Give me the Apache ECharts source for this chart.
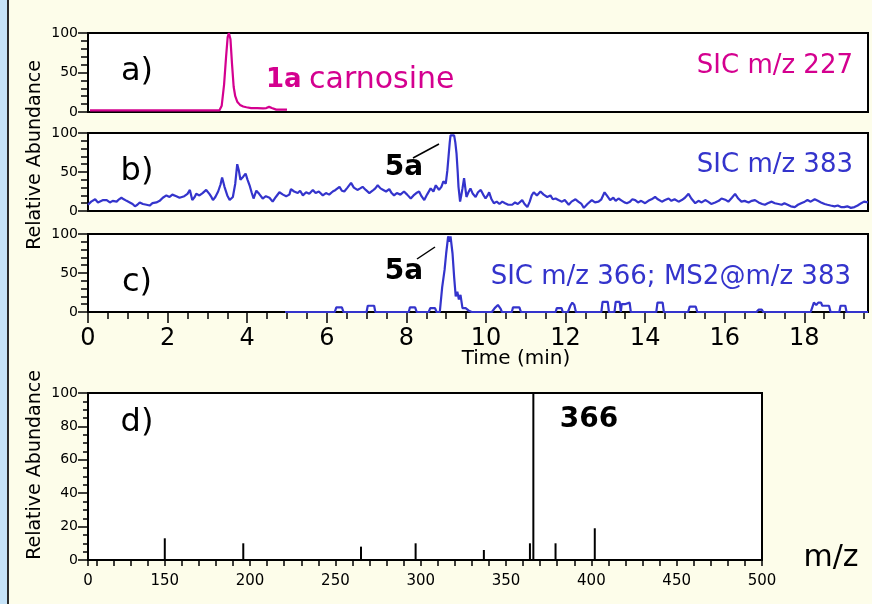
<!DOCTYPE html>
<html><head><meta charset="utf-8">
<script src="https://cdn.jsdelivr.net/npm/echarts@6/dist/echarts.min.js"></script>
<style>
html,body{margin:0;padding:0;}
body{width:872px;height:604px;overflow:hidden;background:linear-gradient(to right,#c6e3f8 0,#c6e3f8 7px,#2b2b2b 7px,#2b2b2b 9px,#fdfdea 9px);}
#c{width:872px;height:604px;}
</style></head><body><div id="c"></div>
<script>
// a) SIC m/z 227 : [time (min), relative abundance]
const sic227 = [[0.05,2],[0.5,2],[1,2],[1.5,2],[2,2],[2.5,2],[3.0,2],[3.3,2],[3.36,8],[3.42,35],[3.47,70],[3.51,95],[3.54,100],[3.58,92],[3.62,60],[3.66,32],[3.70,20],[3.75,13],[3.82,9],[3.9,7],[3.98,6],[4.1,5],[4.25,5],[4.4,4.5],[4.48,5],[4.55,6.5],[4.62,5],[4.73,3],[4.85,3],[5.0,3]];
// b) SIC m/z 383
const sic383 = [[0.00,8],[0.08,12],[0.18,15],[0.25,11],[0.30,10],[0.38,14],[0.47,14],[0.55,11],[0.62,13],[0.72,12],[0.78,15],[0.84,17],[0.90,15],[0.97,13],[1.05,11],[1.12,9],[1.18,6],[1.24,8],[1.30,11],[1.38,9],[1.47,8],[1.55,7],[1.62,10],[1.72,11],[1.80,13],[1.88,17],[1.97,20],[2.05,18],[2.12,21],[2.22,19],[2.30,17],[2.35,16],[2.42,19],[2.50,22],[2.56,27],[2.62,14],[2.68,18],[2.72,22],[2.80,20],[2.88,23],[2.97,27],[3.05,22],[3.10,18],[3.14,14],[3.20,18],[3.27,25],[3.33,34],[3.37,43],[3.43,31],[3.50,20],[3.56,14],[3.60,16],[3.64,18],[3.70,35],[3.75,60],[3.79,52],[3.83,40],[3.90,44],[3.96,48],[4.01,40],[4.06,33],[4.11,24],[4.16,16],[4.23,26],[4.30,22],[4.39,16],[4.47,19],[4.56,17],[4.64,12],[4.72,18],[4.81,24],[4.90,21],[4.98,19],[5.06,21],[5.10,28],[5.18,25],[5.27,23],[5.33,26],[5.40,20],[5.48,24],[5.56,22],[5.65,27],[5.72,23],[5.80,25],[5.90,20],[5.98,23],[6.06,21],[6.15,25],[6.22,27],[6.32,31],[6.38,26],[6.44,25],[6.52,30],[6.61,36],[6.68,30],[6.77,27],[6.84,29],[6.90,31],[6.98,27],[7.07,23],[7.15,26],[7.22,29],[7.28,33],[7.35,29],[7.42,27],[7.49,25],[7.57,28],[7.63,23],[7.69,20],[7.76,23],[7.85,21],[7.94,25],[8.02,21],[8.11,16],[8.18,20],[8.25,23],[8.32,25],[8.38,19],[8.45,14],[8.52,21],[8.61,29],[8.68,25],[8.74,33],[8.82,27],[8.88,31],[8.93,38],[8.99,35],[9.03,52],[9.06,70],[9.09,88],[9.11,97],[9.15,99],[9.20,97],[9.23,88],[9.26,74],[9.29,50],[9.31,31],[9.35,12],[9.38,20],[9.41,29],[9.45,42],[9.48,30],[9.51,18],[9.56,24],[9.61,29],[9.67,22],[9.74,18],[9.80,24],[9.87,27],[9.93,21],[9.99,16],[10.04,20],[10.08,24],[10.14,15],[10.20,10],[10.27,12],[10.34,9],[10.41,12],[10.48,10],[10.56,8],[10.66,8],[10.73,11],[10.80,9],[10.91,14],[10.97,9],[11.04,5],[11.10,12],[11.15,20],[11.20,24],[11.28,20],[11.37,25],[11.45,21],[11.54,18],[11.62,20],[11.68,15],[11.75,16],[11.82,14],[11.91,12],[11.98,14],[12.08,8],[12.15,12],[12.25,15],[12.32,12],[12.40,9],[12.46,4],[12.55,9],[12.66,14],[12.74,11],[12.83,12],[12.90,15],[12.98,24],[13.05,19],[13.12,14],[13.20,17],[13.26,13],[13.33,16],[13.42,13],[13.48,11],[13.54,10],[13.62,12],[13.68,15],[13.75,14],[13.82,11],[13.90,13],[14.00,10],[14.08,13],[14.16,15],[14.25,18],[14.32,15],[14.42,12],[14.50,14],[14.59,16],[14.66,13],[14.74,15],[14.84,12],[14.92,14],[15.00,17],[15.09,22],[15.16,16],[15.26,10],[15.34,13],[15.42,11],[15.51,14],[15.58,12],[15.66,9],[15.76,11],[15.85,13],[15.92,16],[15.97,16],[16.03,14],[16.09,12],[16.18,17],[16.26,22],[16.34,16],[16.42,12],[16.50,13],[16.60,11],[16.68,13],[16.76,14],[16.85,11],[16.94,9],[17.01,8],[17.08,10],[17.18,12],[17.26,10],[17.35,9],[17.43,8],[17.50,10],[17.58,8],[17.66,6],[17.76,5],[17.84,8],[17.92,10],[18.01,12],[18.08,14],[18.16,12],[18.26,15],[18.34,13],[18.42,11],[18.51,9],[18.58,8],[18.66,7],[18.76,6],[18.84,7],[18.92,5],[19.00,5],[19.08,6],[19.17,4],[19.26,5],[19.34,7],[19.43,10],[19.50,12],[19.60,11]];
// c) SIC m/z 366; MS2@m/z 383
const sic366 = [[4.95,0],[6.2,0],[6.24,6],[6.38,6],[6.42,0],[7.0,0],[7.03,8],[7.19,8],[7.22,0],[8.06,0],[8.09,6],[8.22,6],[8.26,0],[8.56,0],[8.6,5],[8.72,5],[8.76,0],[8.84,0],[8.9,32],[8.96,54],[9.0,75],[9.05,97],[9.09,90],[9.11,97],[9.16,75],[9.2,45],[9.24,20],[9.28,26],[9.32,16],[9.36,22],[9.41,5],[9.49,5],[9.56,2],[9.64,0],[10.15,0],[10.22,5],[10.3,9],[10.37,4],[10.4,0],[10.65,0],[10.68,6],[10.84,6],[10.88,0],[11.75,0],[11.78,5],[11.9,5],[11.93,0],[12.06,0],[12.12,8],[12.17,12],[12.22,9],[12.26,0],[12.9,0],[12.93,13],[13.06,13],[13.09,0],[13.23,0],[13.26,13],[13.36,13],[13.39,0],[13.41,10],[13.49,10],[13.51,12],[13.61,12],[13.64,0],[14.28,0],[14.31,12],[14.44,12],[14.47,0],[15.08,0],[15.12,7],[15.27,7],[15.31,0],[16.8,0],[16.85,3],[16.93,3],[16.97,0],[18.16,0],[18.2,6],[18.24,12],[18.3,9],[18.35,12],[18.42,12],[18.45,8],[18.62,8],[18.66,0],[18.88,0],[18.91,8],[19.03,8],[19.06,0],[19.6,0]];
// d) MS2 spectrum
const msMz = [150,196,265,297,337,364,366,379,402];
const msIntensity = [13,10,8,10,6,10,100,10,19];
// tick labels
const timeTickLabels = [0,2,4,6,8,10,12,14,16,18];
const timeMinorTicks = [0,0.5,1,1.5,2,2.5,3,3.5,4,4.5,5,5.5,6,6.5,7,7.5,8,8.5,9,9.5,10,10.5,11,11.5,12,12.5,13,13.5,14,14.5,15,15.5,16,16.5,17,17.5,18,18.5,19,19.5];
const mzTickLabels = [105,150,200,250,300,350,400,450,500];
const mzTicks = [105,110,120,130,140,150,160,170,180,190,200,210,220,230,240,250,260,270,280,290,300,310,320,330,340,350,360,370,380,390,400,410,420,430,440,450,460,470,480,490,500];

const MAG = '#d4008f', BLUE = '#3434cc';
const FONT = 'DejaVu Sans';
const chart = echarts.init(document.getElementById('c'), null, {renderer:'canvas'});

function gridCfg(top, h, w){ return {left:88, top:top, width:w, height:h, show:true, backgroundColor:'#fff', borderColor:'#000', borderWidth:2}; }
function yAx(gi, interval, minorSplit, minorLen){
  return {type:'value', gridIndex:gi, min:0, max:100, interval:interval,
    axisLine:{show:true, lineStyle:{color:'#000', width:2}},
    axisTick:{show:true, length:10, lineStyle:{color:'#000', width:1.5}},
    minorTick:{show:true, splitNumber:minorSplit, length:minorLen, lineStyle:{color:'#000', width:1.5}},
    splitLine:{show:false},
    axisLabel:{color:'#000', fontFamily:FONT, fontSize:14, margin:10, padding:[9,0,0,0]}};
}
const hiddenX = gi => ({type:'value', gridIndex:gi, min:0, max:19.6, show:false});

chart.setOption({
  animation:false,
  grid:[gridCfg(33,79,780), gridCfg(133,78,780), gridCfg(234,78,780), gridCfg(393,167,674)],
  xAxis:[
    hiddenX(0), hiddenX(1),
    {type:'value', gridIndex:2, position:'bottom', min:0, max:19.6,
      axisLine:{show:true, lineStyle:{color:'#000', width:2}},
      axisTick:{show:true, length:7, customValues:timeMinorTicks, lineStyle:{color:'#000', width:1.5}},
      splitLine:{show:false},
      axisLabel:{customValues:timeTickLabels, color:'#000', fontFamily:FONT, fontSize:24, margin:15}},
    {type:'value', gridIndex:2, position:'bottom', min:0, max:19.6,
      axisLine:{show:false}, axisLabel:{show:false}, splitLine:{show:false},
      axisTick:{show:true, length:11, customValues:timeTickLabels, lineStyle:{color:'#000', width:1.5}}},
    {type:'value', gridIndex:3, position:'bottom', min:105, max:500,
      axisLine:{show:true, lineStyle:{color:'#000', width:2}},
      axisTick:{show:true, length:6, customValues:mzTicks, lineStyle:{color:'#000', width:1.5}},
      splitLine:{show:false},
      axisLabel:{customValues:mzTickLabels, color:'#000', fontFamily:FONT, fontSize:15, margin:14,
        formatter: v => (v === 105 ? '0' : String(v))}}
  ],
  yAxis:[yAx(0,50,5,7), yAx(1,50,5,7), yAx(2,50,5,7), yAx(3,20,4,5)],
  series:[
    {type:'line', xAxisIndex:0, yAxisIndex:0, data:sic227, showSymbol:false, lineStyle:{color:MAG, width:2.2}, itemStyle:{color:MAG}},
    {type:'line', xAxisIndex:1, yAxisIndex:1, data:sic383, showSymbol:false, lineStyle:{color:BLUE, width:2.2}, itemStyle:{color:BLUE}},
    {type:'line', xAxisIndex:2, yAxisIndex:2, data:sic366, showSymbol:false, lineStyle:{color:BLUE, width:2.2}, itemStyle:{color:BLUE}},
    {type:'bar', xAxisIndex:4, yAxisIndex:3, data:msMz.map((m,i)=>[m, msIntensity[i]]), barWidth:2, itemStyle:{color:'#000'}}
  ],
  graphic:[
    {type:'text', x:35, y:155, rotation:Math.PI/2, style:{text:'Relative Abundance', font:'19px '+FONT, fill:'#000', align:'center', verticalAlign:'middle'}},
    {type:'text', x:35, y:465, rotation:Math.PI/2, style:{text:'Relative Abundance', font:'19px '+FONT, fill:'#000', align:'center', verticalAlign:'middle'}},
    {type:'text', x:137, y:72, style:{text:'a)', font:'32px '+FONT, fill:'#000', align:'center', verticalAlign:'middle'}},
    {type:'text', x:137, y:172, style:{text:'b)', font:'32px '+FONT, fill:'#000', align:'center', verticalAlign:'middle'}},
    {type:'text', x:137, y:283, style:{text:'c)', font:'32px '+FONT, fill:'#000', align:'center', verticalAlign:'middle'}},
    {type:'text', x:137, y:423, style:{text:'d)', font:'32px '+FONT, fill:'#000', align:'center', verticalAlign:'middle'}},
    {type:'text', x:266, y:80, style:{text:'1a', font:'bold 26px '+FONT, fill:MAG, align:'left', verticalAlign:'middle'}},
    {type:'text', x:309, y:80, style:{text:'carnosine', font:'30px '+FONT, fill:MAG, align:'left', verticalAlign:'middle'}},
    {type:'text', x:853, y:66, style:{text:'SIC m/z 227', font:'26px '+FONT, fill:MAG, align:'right', verticalAlign:'middle'}},
    {type:'text', x:853, y:165, style:{text:'SIC m/z 383', font:'26px '+FONT, fill:BLUE, align:'right', verticalAlign:'middle'}},
    {type:'text', x:851, y:277, style:{text:'SIC m/z 366; MS2@m/z 383', font:'26px '+FONT, fill:BLUE, align:'right', verticalAlign:'middle'}},
    {type:'text', x:404, y:168, style:{text:'5a', font:'bold 28px '+FONT, fill:'#000', align:'center', verticalAlign:'middle'}},
    {type:'text', x:404, y:272, style:{text:'5a', font:'bold 28px '+FONT, fill:'#000', align:'center', verticalAlign:'middle'}},
    {type:'line', shape:{x1:413, y1:158, x2:439, y2:144}, style:{stroke:'#000', lineWidth:1.5}},
    {type:'line', shape:{x1:417, y1:259, x2:435, y2:247}, style:{stroke:'#000', lineWidth:1.5}},
    {type:'text', x:516, y:359, style:{text:'Time (min)', font:'20px '+FONT, fill:'#000', align:'center', verticalAlign:'middle'}},
    {type:'text', x:589, y:420, style:{text:'366', font:'bold 28px '+FONT, fill:'#000', align:'center', verticalAlign:'middle'}},
    {type:'text', x:831, y:558, style:{text:'m/z', font:'30px '+FONT, fill:'#000', align:'center', verticalAlign:'middle'}}
  ]
});
</script></body></html>
